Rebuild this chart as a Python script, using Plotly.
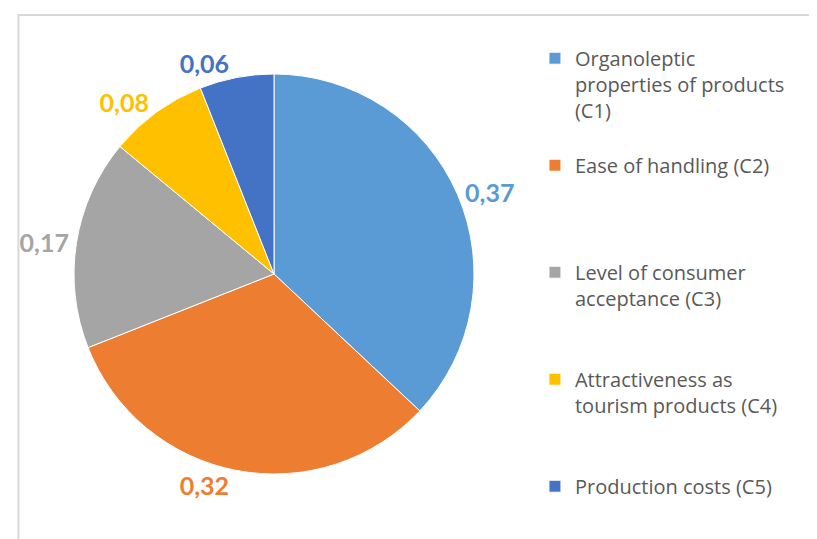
import plotly.graph_objects as go

# criteria weights (decimal comma in the original)
categories = [
    "Organoleptic<br>properties of products<br>(C1)<br> ",
    "Ease of handling (C2)<br> <br> <br> ",
    "Level of consumer<br>acceptance (C3)<br> <br> ",
    "Attractiveness as<br>tourism products (C4)<br> <br> ",
    "Production costs (C5)",
]
weights = [0.37, 0.32, 0.17, 0.08, 0.06]

SLICE_COLORS = ["#5B9BD5", "#ED7D31", "#A5A5A5", "#FFC000", "#4472C4"]

fig = go.Figure(
    go.Pie(
        labels=categories,
        values=weights,
        sort=False,
        direction="clockwise",
        rotation=0,
        marker=dict(colors=SLICE_COLORS, line=dict(color="white", width=1)),
        texttemplate="<b>%{value:.2f}</b>",
        textposition="outside",
        textfont=dict(family="Lato", size=25, color=SLICE_COLORS),
        domain=dict(x=[0.0808, 0.5704], y=[0.1354, 0.8776]),
        showlegend=True,
        hoverinfo="label+value",
    )
)

# light frame along the top and left edges
fig.add_shape(
    type="rect", xref="paper", yref="paper",
    x0=0.0128, x1=1.05, y0=-0.05, y1=0.987,
    line=dict(color="#D9D9D9", width=2),
)

fig.update_layout(
    width=817,
    height=539,
    separators=", ",
    paper_bgcolor="white",
    plot_bgcolor="white",
    margin=dict(l=0, r=0, t=0, b=0),
    font=dict(family="Open Sans", color="#595959"),
    legend=dict(
        x=0.645, y=0.943, xanchor="left", yanchor="top",
        valign="top",
        font=dict(family="Open Sans", size=20, color="#595959"),
        itemwidth=30,
    ),
)

fig.write_html("out.html")
